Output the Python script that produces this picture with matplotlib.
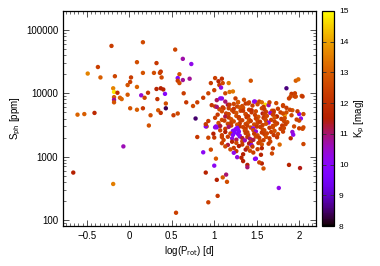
import matplotlib
matplotlib.use("Agg")
import matplotlib.pyplot as plt
from matplotlib.ticker import FixedLocator, MultipleLocator, LogLocator, NullFormatter
import numpy as np

plt.rcParams['font.family'] = ['Liberation Sans', 'DejaVu Sans']

# ---- sparse stars (short periods / high amplitudes) ----
logp_a = [-0.21, 0.16, 0.54, -0.37, -0.49, -0.34, -0.17, 0.09, 0.32, 0.63,
          0.02, 0.16, 0.29, 0.37, 0.36, 0.38, 0.59, 0.57, 0.63, 0.57,
          0.59, 0.01, -0.02, -0.19, -0.18, -0.14, -0.18, -0.18, -0.18, -0.11,
          -0.09, -0.02, 0.09, 0.14, 0.18, 0.22, 0.32, 0.37, 0.40, 0.42,
          0.33, 0.43, 0.64, 0.67, 0.01, 0.09, 0.16, 0.34, 0.37, 0.43,
          0.57, 0.52, 0.25, 0.23, -0.61, -0.53, -0.41, -0.66, -0.19, -0.07,
          0.55, 0.73, 0.71, 0.75, 0.80, 0.78, 0.87, 0.91, 0.96, 0.93]
sph_a = [56000, 64000, 49000, 26000, 20500, 17800, 18600, 31000, 30000, 35000,
         17800, 21000, 21000, 22000, 21000, 17800, 20000, 17400, 16200, 15800,
         14500, 15100, 13500, 12000, 10500, 10200, 8700, 7900, 7200, 8500,
         8100, 9500, 12600, 9300, 8500, 10200, 11700, 12000, 11500, 9800,
         8100, 6900, 10000, 7200, 5800, 5500, 5800, 5400, 4900, 5800,
         4800, 4500, 4500, 3100, 4600, 4700, 4900, 560, 370, 1450,
         130, 29000, 17000, 6300, 7200, 4000, 8500, 3000, 14500, 10000]
kp_a = [12.3, 12.6, 12.5, 12.4, 13.6, 13.0, 12.5, 12.7, 12.2, 10.7,
        12.3, 12.8, 12.7, 12.1, 12.4, 12.6, 12.8, 9.8, 10.8, 12.3,
        12.7, 12.4, 12.8, 13.6, 14.8, 12.0, 13.0, 10.8, 12.8, 13.0,
        13.1, 12.9, 13.1, 10.4, 12.5, 12.2, 11.6, 11.5, 11.6, 9.9,
        12.1, 12.7, 12.3, 12.2, 12.8, 13.0, 12.2, 12.9, 12.1, 8.4,
        12.6, 12.3, 12.7, 12.8, 13.1, 13.0, 11.8, 11.5, 13.5, 10.6,
        12.4, 10.2, 10.8, 12.6, 12.4, 8.5, 12.3, 12.3, 12.3, 12.5]

# ---- upper edge of the main group ----
logp_b = [1.01, 1.09, 1.05, 1.10, 1.17, 1.06, 1.08, 1.00, 1.09, 1.03,
          1.13, 1.18, 1.22, 1.01, 1.06, 1.10, 1.16, 1.17, 1.03, 1.28,
          1.33, 1.37, 1.43, 1.85, 1.96, 1.99, 1.91, 1.95, 1.90, 1.95,
          2.03, 1.48, 1.53, 1.60, 1.41, 1.64, 1.81, 1.85, 1.92, 2.00,
          1.83, 1.78, 1.70, 1.74, 1.07, 1.25, 1.35, 1.47, 1.56, 1.88,
          1.96, 2.04, 2.02, 2.05, 0.90, 1.02]
sph_b = [17400, 17000, 15500, 14500, 14500, 13500, 12300, 11200, 8300, 7800,
         10000, 10500, 10700, 6200, 5600, 6000, 6600, 5800, 2900, 7200,
         6300, 6900, 15800, 12000, 15800, 16600, 9800, 10000, 8900, 8900,
         9100, 7400, 7400, 6600, 7200, 6500, 6500, 5900, 5400, 4700,
         4500, 5000, 5000, 4300, 8300, 8300, 7900, 7400, 7200, 8300,
         8900, 8900, 4000, 2900, 3000, 3000]
kp_b = [12.4, 12.0, 11.6, 12.6, 13.4, 12.2, 10.3, 12.4, 10.2, 11.1,
        12.6, 13.3, 13.4, 12.3, 12.7, 12.2, 11.2, 12.4, 10.1, 12.4,
        12.6, 12.2, 12.8, 8.6, 13.0, 13.2, 12.2, 12.4, 12.6, 12.2,
        12.7, 10.3, 12.4, 14.7, 12.6, 10.6, 12.6, 12.3, 12.8, 10.0,
        14.0, 12.3, 12.6, 12.4, 10.2, 12.3, 12.6, 10.1, 13.2, 12.4,
        12.6, 12.2, 10.2, 12.6, 10.0, 10.1]

# ---- low-amplitude tail ----
logp_c = [0.80, 0.87, 0.96, 1.00, 1.02, 0.90, 1.03, 1.10, 1.14, 1.15,
          0.93, 1.00, 1.09, 1.49, 1.55, 1.56, 1.58, 1.39, 1.39, 1.77,
          1.88, 2.01, 2.05, 1.76, 1.68, 1.69, 1.90, 1.92, 2.00, 2.04,
          0.93, 1.04]
sph_c = [2040, 1170, 1290, 720, 930, 560, 430, 470, 520, 400,
         1990, 2000, 2040, 930, 1070, 780, 650, 740, 680, 1550,
         740, 660, 1580, 320, 1120, 1350, 1950, 2450, 2800, 2750,
         190, 240]
kp_c = [12.2, 10.1, 12.6, 10.1, 12.9, 11.6, 11.5, 12.9, 11.0, 12.7,
        12.5, 12.2, 12.4, 10.1, 11.6, 11.5, 12.8, 11.5, 11.0, 13.2,
        11.6, 11.4, 12.5, 10.2, 12.5, 12.3, 11.8, 10.4, 12.3, 12.6,
        12.4, 12.2]

# ---- dense core (log P ~ 1-2, S ~ 1000-7000 ppm) ----
logp_d = [1.13, 1.23, 1.28, 1.40, 1.65, 1.73,
          0.97, 1.03, 1.18, 1.27, 1.30, 1.45, 1.51, 1.58, 1.81,
          1.11, 1.21, 1.23, 1.31, 1.34, 1.41, 1.44, 1.56, 1.59, 1.68, 1.75, 1.89,
          1.09, 1.14, 1.23, 1.26, 1.34, 1.37, 1.44, 1.49, 1.57, 1.61, 1.66, 1.70, 1.81, 1.85, 1.98, 2.05,
          1.04, 1.13, 1.17, 1.26, 1.29, 1.37, 1.40, 1.48, 1.52, 1.59, 1.62, 1.69, 1.73, 1.91,
          1.01, 1.09, 1.17, 1.20, 1.29, 1.31, 1.38, 1.41, 1.49, 1.51, 1.58, 1.60, 1.67, 1.71, 1.79, 1.83, 1.97,
          0.93, 1.05, 1.12, 1.20, 1.23, 1.30, 1.33, 1.40, 1.43, 1.51, 1.54, 1.61, 1.64, 1.71, 1.74, 1.82, 1.86, 2.00,
          0.90, 1.07, 1.16, 1.20, 1.27, 1.30, 1.37, 1.39, 1.47, 1.50, 1.57, 1.61, 1.69, 1.72, 1.80, 1.84, 1.94,
          1.01, 1.13, 1.17, 1.25, 1.27, 1.34, 1.37, 1.43, 1.46, 1.54, 1.57, 1.65, 1.69, 1.78, 1.82,
          1.07, 1.13, 1.22, 1.24, 1.28, 1.29, 1.36, 1.39, 1.46, 1.49, 1.56, 1.59, 1.67, 1.71, 1.81,
          0.99, 1.09, 1.19, 1.22, 1.28, 1.30, 1.37, 1.40, 1.47, 1.51, 1.59, 1.62, 1.70, 1.75, 1.93,
          1.16, 1.21, 1.30, 1.33, 1.39, 1.42, 1.49, 1.53, 1.61, 1.65, 1.74,
          1.11, 1.21, 1.26, 1.33, 1.36, 1.43, 1.46, 1.54, 1.58, 1.66,
          1.09, 1.16, 1.26, 1.33, 1.41, 1.44, 1.52, 1.56, 1.64,
          1.13, 1.23, 1.29, 1.39, 1.45, 1.56,
          1.19, 1.26, 1.37, 1.42, 1.51,
          1.23, 1.34, 1.46,
          1.27, 1.48, 1.32,
          1.34, 1.53]
sph_d = [7400, 6800, 7300, 6900, 7200, 7000,
         6500, 6100, 6600, 6200, 6000, 6400, 6700, 6100, 6300,
         5800, 5400, 5700, 5300, 5900, 5500, 5400, 5800, 5600, 5300, 5700, 5500,
         5200, 4800, 5100, 4900, 5300, 4700, 5000, 5200, 4800, 5100, 4900, 5300, 4800, 5000, 5200, 4700,
         4600, 4300, 4700, 4400, 4200, 4650, 4350, 4550, 4250, 4700, 4400, 4600, 4300, 4500,
         4100, 3800, 4150, 3900, 4050, 3750, 4200, 3850, 4000, 3700, 4100, 3900, 3800, 4150, 3950, 4050, 3850,
         3650, 3400, 3700, 3450, 3600, 3350, 3750, 3500, 3650, 3400, 3550, 3700, 3450, 3600, 3350, 3650, 3500, 3700,
         3250, 3050, 3300, 3100, 3200, 3000, 3280, 3080, 3220, 2980, 3150, 3300, 3050, 3200, 3100, 3250, 3000,
         2900, 2750, 2950, 2700, 2850, 2920, 2720, 2880, 2780, 2950, 2700, 2850, 2900, 2750, 2820,
         2600, 2450, 2550, 2400, 2650, 2480, 2580, 2420, 2620, 2500, 2400, 2600, 2450, 2550, 2480,
         2300, 2180, 2320, 2200, 2280, 2150, 2350, 2200, 2300, 2170, 2260, 2330, 2190, 2280, 2220,
         2060, 1940, 2080, 1960, 2040, 1920, 2070, 1980, 2050, 1950, 2020,
         1830, 1720, 1850, 1740, 1810, 1700, 1840, 1760, 1820, 1730,
         1630, 1530, 1650, 1550, 1610, 1520, 1640, 1560, 1600,
         1450, 1370, 1470, 1390, 1440, 1360,
         1300, 1220, 1290, 1240, 1310,
         1150, 1090, 1160,
         980, 920, 960,
         850, 810]
kp_d = [11.0, 12.5, 12.9, 12.4, 12.3, 12.6,
        12.2, 11.0, 12.2, 12.5, 12.8, 12.3, 12.6, 12.1, 12.4,
        12.3, 12.6, 12.1, 12.4, 12.7, 12.3, 11.8, 12.5, 12.2, 12.7, 12.3, 12.5,
        12.7, 12.4, 12.3, 12.8, 12.2, 12.5, 12.1, 12.6, 11.4, 12.4, 10.4, 12.2, 12.6, 12.7, 12.2, 12.6,
        12.2, 11.2, 12.5, 12.7, 12.3, 12.6, 12.2, 12.4, 12.8, 12.3, 12.6, 12.4, 11.5, 12.5,
        12.4, 12.6, 12.2, 12.8, 12.3, 12.5, 12.2, 12.7, 12.3, 12.6, 12.2, 12.5, 12.3, 12.8, 12.3, 12.6, 12.4,
        12.3, 12.7, 12.4, 12.3, 12.6, 12.2, 12.4, 12.8, 12.3, 12.5, 12.2, 12.6, 10.3, 12.4, 12.2, 12.5, 12.7, 12.5,
        12.2, 11.3, 12.5, 12.3, 12.7, 12.2, 12.5, 12.3, 12.6, 12.2, 12.4, 12.7, 12.3, 12.6, 12.2, 12.4, 12.6,
        10.2, 12.3, 11.0, 10.0, 9.8, 12.4, 12.2, 12.6, 10.1, 12.3, 12.5, 12.2, 12.6, 12.3, 12.5,
        12.4, 11.5, 9.9, 9.7, 10.0, 9.9, 12.5, 12.3, 12.6, 10.4, 12.2, 12.5, 12.3, 12.7, 12.4,
        11.5, 12.4, 12.6, 9.9, 9.8, 10.2, 12.3, 12.5, 12.2, 12.7, 12.3, 12.5, 12.2, 12.6, 10.2,
        12.3, 10.3, 10.1, 11.3, 12.2, 11.0, 12.5, 12.3, 12.7, 12.4, 12.2,
        12.5, 11.6, 11.1, 12.4, 10.6, 12.3, 11.2, 12.6, 12.3, 12.5,
        12.4, 11.2, 12.6, 12.2, 11.4, 10.1, 12.4, 12.7, 12.3,
        12.6, 12.3, 11.5, 12.5, 12.2, 11.6,
        12.7, 12.2, 11.4, 12.6, 12.3,
        10.2, 11.5, 12.4,
        10.3, 10.0, 11.6,
        11.5, 12.5]

logp = np.array(logp_a + logp_b + logp_c + logp_d)
sph = np.array(sph_a + sph_b + sph_c + sph_d)
kp = np.array(kp_a + kp_b + kp_c + kp_d)

fig = plt.figure(figsize=(3.8, 2.66), dpi=100)
ax = fig.add_axes([0.166, 0.150, 0.666, 0.809])
cax = fig.add_axes([0.847, 0.150, 0.032, 0.809])

sc = ax.scatter(logp, sph, c=kp, cmap='gnuplot', vmin=8, vmax=15,
                s=10, linewidths=0)

ax.set_yscale('log')
ax.set_xlim(-0.78, 2.2)
ax.set_ylim(80, 2e5)

ax.xaxis.set_minor_locator(MultipleLocator(0.05))
ax.set_xticks([-0.5, 0, 0.5, 1, 1.5, 2])
ax.set_xticklabels(['\u22120.5', '0', '0.5', '1', '1.5', '2'])
ax.yaxis.set_major_locator(FixedLocator([100, 1000, 10000, 100000]))
ax.set_yticklabels(['100', '1000', '10000', '100000'])
ax.yaxis.set_minor_locator(LogLocator(base=10, subs=np.arange(2, 10)))
ax.yaxis.set_minor_formatter(NullFormatter())

ax.tick_params(which='both', direction='in', top=True, right=True,
               labelsize=7, colors='#333333', labelcolor='black')
ax.tick_params(which='major', length=4, width=0.6)
ax.tick_params(which='minor', length=2, width=0.5)
for sp in ax.spines.values():
    sp.set_linewidth(0.9)

ax.set_xlabel('log(P$_{\\rm rot}$) [d]', fontsize=7, labelpad=2)
ax.set_ylabel('S$_{\\rm ph}$ [ppm]', fontsize=7, labelpad=2)

cb = fig.colorbar(sc, cax=cax, ticks=range(8, 16))
cb.outline.set_linewidth(0.9)
cax.tick_params(direction='in', left=True, right=True, length=3, width=0.6,
                labelsize=6, colors='#333333', labelcolor='black')
cb.set_label('K$_{\\rm p}$ [mag]', fontsize=7, labelpad=3)

fig.savefig('out.png', dpi=100)
